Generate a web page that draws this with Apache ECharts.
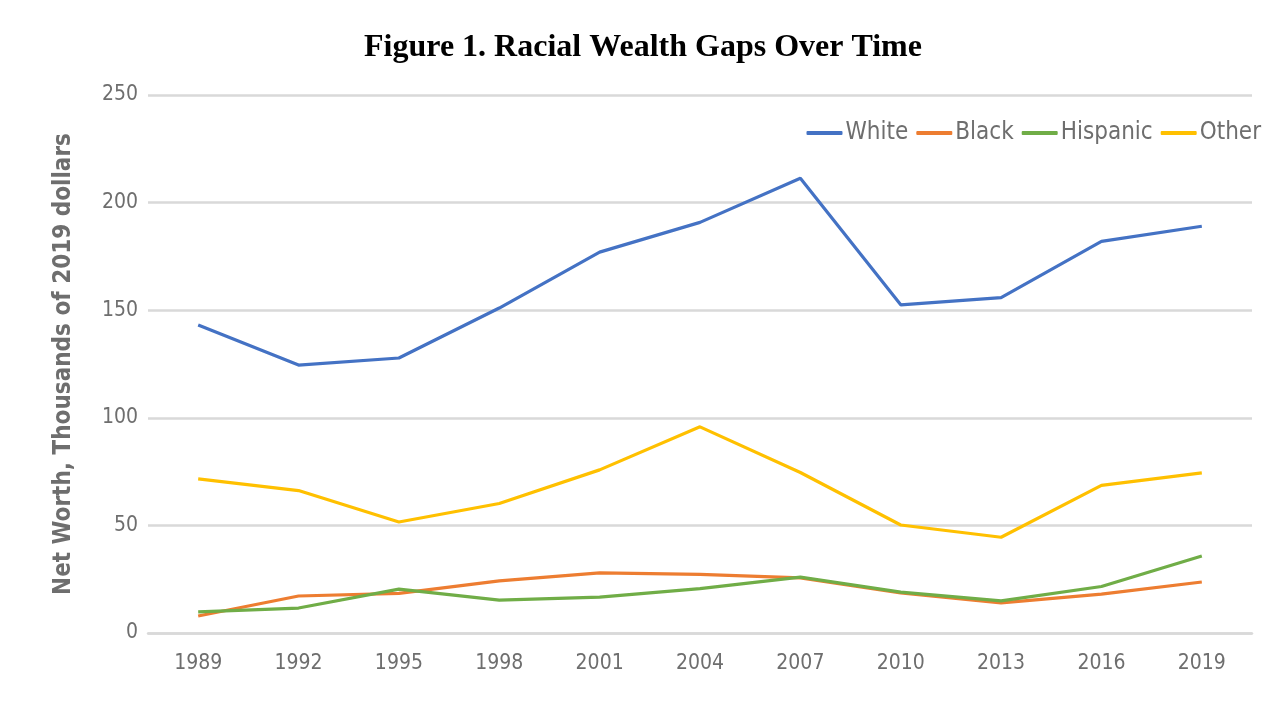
<!DOCTYPE html>
<html>
<head>
<meta charset="utf-8">
<script src="https://cdn.jsdelivr.net/npm/echarts@6/dist/echarts.min.js"></script>
<style>html,body{margin:0;padding:0;background:#fff;}#c{width:1286px;height:724px;}</style>
</head>
<body>
<div id="c"></div>
<script>
const years = ['1989','1992','1995','1998','2001','2004','2007','2010','2013','2016','2019'];
const white = [143.1, 124.5, 127.8, 151, 177, 190.8, 211.3, 152.5, 155.8, 182, 189];
const black = [7.9, 17.2, 18.4, 24.2, 27.9, 27.2, 25.6, 18.6, 14, 18.1, 23.7];
const hispanic = [9.8, 11.6, 20.4, 15.3, 16.7, 20.6, 26, 19, 14.9, 21.6, 35.8];
const other = [71.6, 66.2, 51.6, 60.2, 75.8, 95.8, 74.6, 50.2, 44.5, 68.6, 74.4];
const yTicks = [0, 50, 100, 150, 200, 250];

const font = '"Liberation Sans Narrow", "DejaVu Sans Condensed", "Roboto Condensed", sans-serif';
const gray = '#6e6e6e';
const chart = echarts.init(document.getElementById('c'));
const mk = (name, data, color) => ({
  name, type: 'line', data, symbol: 'none', smooth: false,
  lineStyle: { color, width: 3.2 }, itemStyle: { color }
});
chart.setOption({
  animation: false,
  title: {
    text: 'Figure 1. Racial Wealth Gaps Over Time',
    left: 'center', top: 27,
    textStyle: { fontFamily: '"Liberation Serif", "Times New Roman", serif', fontWeight: 'bold', fontSize: 32, color: '#000' }
  },
  legend: {
    right: 20, top: 116, itemWidth: 36, itemHeight: 4, itemGap: 8,
    icon: 'roundRect',
    textStyle: { fontFamily: font, fontSize: 24, color: gray, padding: [0, 0, 0, -2] },
    data: ['White', 'Black', 'Hispanic', 'Other']
  },
  grid: { left: 148, right: 34, top: 95, bottom: 91 },
  xAxis: {
    type: 'category', data: years, boundaryGap: true,
    axisLine: { show: true, lineStyle: { color: '#d9d9d9', width: 2.5 } },
    axisTick: { show: false },
    axisLabel: { fontFamily: font, fontSize: 21, color: gray, margin: 20 }
  },
  yAxis: {
    type: 'value', min: 0, max: 250, interval: 50,
    name: 'Net Worth, Thousands of 2019 dollars',
    nameLocation: 'middle', nameGap: 72, nameRotate: 90,
    nameTextStyle: { fontFamily: font, fontSize: 24, fontWeight: 'bold', color: gray },
    axisLine: { show: false }, axisTick: { show: false },
    axisLabel: { fontFamily: font, fontSize: 21, color: gray, margin: 10,
      formatter: v => yTicks.includes(v) ? String(v) : '' },
    splitLine: { lineStyle: { color: '#d9d9d9', width: 2.5 } }
  },
  series: [
    mk('White', white, '#4472C4'),
    mk('Black', black, '#ED7D31'),
    mk('Hispanic', hispanic, '#70AD47'),
    mk('Other', other, '#FFC000')
  ]
});
</script>
</body>
</html>
